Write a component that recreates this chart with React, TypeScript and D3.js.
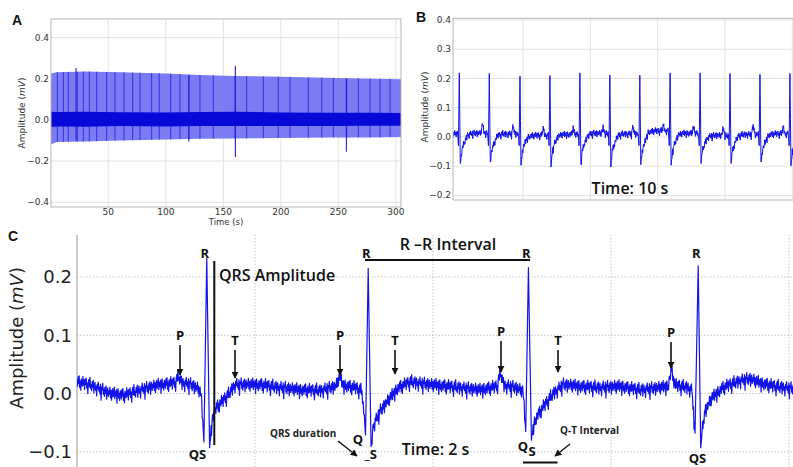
import React from 'react';
import * as d3 from 'd3';

// ---------- Panel A (300 s recording, read as envelopes) ----------
const A_ENV_T = [0.2, 5, 30, 60, 100, 130, 160, 200, 240, 280, 304.5];
const A_ENV_HI = [0.225, 0.232, 0.235, 0.232, 0.225, 0.218, 0.213, 0.21, 0.205, 0.2, 0.198];
const A_ENV_LO = [-0.12, -0.107, -0.105, -0.1, -0.095, -0.092, -0.09, -0.088, -0.086, -0.085, -0.083];
const A_CORE_HI = [0.04, 0.038, 0.04, 0.037, 0.036, 0.038, 0.04, 0.036, 0.035, 0.035, 0.034];
const A_CORE_LO = [-0.035, -0.032, -0.033, -0.03, -0.032, -0.03, -0.03, -0.03, -0.03, -0.028, -0.028];
const A_SPIKE_T = [5.7, 10.9, 15.2, 23.1, 28.3, 33.5, 39.9, 48.6, 55.8, 63.7, 71.2, 77.6, 87.7, 94.3, 104.3,
  112.3, 120.2, 129.7, 141.3, 160.2, 170.3, 184.8, 197.8, 208, 223.9, 235.6, 245.7, 257.3, 267.4, 277.6, 286.3, 295];
const A_EVENT_T = [22, 120, 160.5, 257];
const A_EVENT_HI = [0.252, 0.215, 0.262, 0.2];
const A_EVENT_LO = [-0.1, -0.105, -0.18, -0.155];
const A_XTICKS = [50, 100, 150, 200, 250, 300];
const A_YTICKS = [-0.4, -0.2, 0.0, 0.2, 0.4];

// ---------- Panel B (10 s) ----------
const B_R_T = [0.107, 0.998, 1.91, 2.8, 3.69, 4.58, 5.47, 6.37, 7.26, 8.15, 9.04, 9.93];
const B_R_V = [0.219, 0.217, 0.208, 0.21, 0.219, 0.211, 0.211, 0.219, 0.219, 0.217, 0.214, 0.217];
const B_S_V = [-0.091, -0.086, -0.097, -0.103, -0.094, -0.103, -0.095, -0.097, -0.091, -0.091, -0.086, -0.099];
const B_P_V = [0.03, 0.045, 0.037, 0.03, 0.032, 0.03, 0.035, 0.04, 0.035, 0.03, 0.04, 0.035];
const B_BASE = [0.012, 0.01, 0.005, 0.008, 0.012, 0.01, 0.02, 0.012, 0.005, 0.008, 0.01, 0.01];
// beat shape offsets (s from R) and levels
const B_PRE_DT = [-0.25, -0.2, -0.15, -0.05];
const B_Q_DT = -0.025, B_Q_V = -0.03;
const B_S_DT = 0.03;
const B_REC_DT = [0.07, 0.14, 0.25, 0.4];
const B_REC_V = [-0.05, -0.022, 0.005, 0.01];
const B_YTICKS = [-0.2, -0.1, 0.0, 0.1, 0.2, 0.3, 0.4];
const B_XGRID = [2, 4, 6, 8, 10];

// ---------- Panel C (zoomed trace) ----------
const C_T = [0, 0.073, 0.185, 0.27, 0.354, 0.466, 0.551, 0.57, 0.59, 0.635, 0.68, 0.697, 0.713, 0.729, 0.745,
  0.753, 0.767, 0.787, 0.815, 0.848, 0.888, 1.028, 1.14, 1.253, 1.365, 1.455, 1.475, 1.494, 1.562, 1.601,
  1.621, 1.636, 1.652, 1.666, 1.702, 1.758, 1.803, 1.871, 1.983, 2.152, 2.264, 2.36, 2.379, 2.399, 2.461,
  2.506, 2.521, 2.536, 2.553, 2.565, 2.583, 2.62, 2.676, 2.73, 2.826, 2.938, 3.051, 3.163, 3.275, 3.32,
  3.34, 3.36, 3.433, 3.455, 3.472, 3.49, 3.504, 3.514, 3.528, 3.566, 3.629, 3.725, 3.781, 3.837, 3.921, 4.03];
const C_V = [0.02, 0.015, 0.0, -0.003, 0.006, 0.015, 0.018, 0.029, 0.018, 0.016, 0.008, 0.0, -0.083, 0.232, -0.093,
  -0.063, -0.035, -0.023, -0.014, -0.003, 0.015, 0.015, 0.01, 0.006, 0.005, 0.012, 0.03, 0.014, 0.01, 0.004,
  -0.071, 0.215, -0.091, -0.054, -0.031, -0.008, 0.009, 0.02, 0.015, 0.01, 0.006, 0.012, 0.035, 0.014, 0.01,
  0.004, -0.065, 0.216, -0.08, -0.055, -0.04, -0.023, 0.0, 0.015, 0.012, 0.01, 0.012, 0.006, 0.01, 0.012,
  0.04, 0.014, 0.01, 0.005, -0.068, 0.219, -0.093, -0.06, -0.031, -0.008, 0.01, 0.022, 0.025, 0.018, 0.012, 0.008];
const C_R_T = [0.729, 1.636, 2.536, 3.49];
const C_YTICKS = [-0.1, 0.0, 0.1, 0.2];
const C_XGRID = [1, 2, 3, 4];
// high-frequency jitter (mV)
const NOISE = [0.004, -0.007, 0.009, -0.002, 0.011, -0.009, 0.003, -0.013, 0.007, 0.0, -0.005, 0.012, -0.003, 0.006,
  -0.01, 0.008, -0.001, 0.01, -0.007, 0.002, -0.016, 0.005, 0.009, -0.004, 0.013, -0.006, 0.001, -0.009, 0.007,
  -0.002, 0.01, -0.011, 0.004, 0.008, -0.005, 0.002, -0.014, 0.006, -0.001, 0.011, -0.004, 0.003, -0.008, 0.009,
  -0.018, 0.005, 0.001, 0.012, -0.006, 0.003, -0.009, 0.007, -0.003, 0.01, -0.012, 0.002, 0.008, -0.006, 0.004,
  -0.002, 0.011, -0.007, 0.006, -0.011, 0.003, 0.009, -0.005, 0.0, 0.012, -0.008, 0.005, -0.003, 0.008, -0.015,
  0.004, 0.01, -0.006, 0.002, -0.01, 0.007];

const SANS = 'DejaVu Sans, sans-serif';
const ANN = 'Open Sans, sans-serif';
const PANEL = 'Liberation Sans, Arial, sans-serif';
const TRACE = '#1212ea';

function buildTrace(T: number[], V: number[], rT: number[], xs: any, ys: any, quiet: number, noiseOffset: number, stepPx: number) {
  const pts: [number, number][] = [];
  let k = noiseOffset;
  for (let i = 0; i < T.length - 1; i++) {
    const px0 = xs(T[i]);
    const px1 = xs(T[i + 1]);
    const n = Math.max(1, Math.round((px1 - px0) / stepPx));
    for (let j = 0; j < n; j++) {
      const f = j / n;
      const t = T[i] + (T[i + 1] - T[i]) * f;
      let v = V[i] + (V[i + 1] - V[i]) * f;
      const nearR = rT.some((r) => Math.abs(t - r) < quiet);
      if (!nearR) v += NOISE[k++ % NOISE.length];
      pts.push([xs(t), ys(v)]);
    }
  }
  pts.push([xs(T[T.length - 1]), ys(V[V.length - 1])]);
  return d3.line()(pts) || '';
}

function buildB() {
  const T: number[] = [-0.08];
  const V: number[] = [0.01];
  B_R_T.forEach((r, i) => {
    const prev = i === 0 ? 0.01 : B_BASE[i - 1];
    const seq: [number, number][] = [
      [r + B_PRE_DT[0], prev], [r + B_PRE_DT[1], B_P_V[i]], [r + B_PRE_DT[2], prev], [r + B_PRE_DT[3], prev],
      [r + B_Q_DT, B_Q_V], [r, B_R_V[i]], [r + B_S_DT, B_S_V[i]],
      [r + B_REC_DT[0], B_REC_V[0]], [r + B_REC_DT[1], B_REC_V[1]], [r + B_REC_DT[2], B_BASE[i] - 0.005], [r + B_REC_DT[3], B_BASE[i]],
    ];
    seq.forEach(([t, v]) => {
      if (t > T[T.length - 1]) { T.push(t); V.push(v); }
    });
  });
  return { T, V };
}

export default function App() {
  // scales
  const xA = d3.scaleLinear().domain([0.2, 304.5]).range([51, 401]);
  const yA = d3.scaleLinear().domain([-0.423, 0.49]).range([207, 19]);
  const xB = d3.scaleLinear().domain([-0.08, 10.3]).range([453, 453 + 10.38 * 33.66]);
  const yB = d3.scaleLinear().domain([-0.216, 0.406]).range([200, 18.3]);
  const xC = d3.scaleLinear().domain([0, 4.03]).range([77, 77 + 4.03 * 178]);
  const yC = d3.scaleLinear().domain([-0.126, 0.272]).range([467, 235]);

  const envHi = d3.scaleLinear().domain(A_ENV_T).range(A_ENV_HI);
  const envLo = d3.scaleLinear().domain(A_ENV_T).range(A_ENV_LO);
  const idx = A_ENV_T.map((_, i) => i);
  const lightArea = d3.area<number>().x((i) => xA(A_ENV_T[i])).y0((i) => yA(A_ENV_LO[i])).y1((i) => yA(A_ENV_HI[i]))(idx) || '';
  const coreArea = d3.area<number>().x((i) => xA(A_ENV_T[i])).y0((i) => yA(A_CORE_LO[i])).y1((i) => yA(A_CORE_HI[i]))(idx) || '';

  const bData = buildB();
  const bPath = buildTrace(bData.T, bData.V, B_R_T, xB, yB, 0.04, 7, 0.45);
  const cPath = buildTrace(C_T, C_V, C_R_T, xC, yC, 0.02, 0, 0.55);

  const fmt = (v: number) => (v < 0 ? '\u2212' : '') + Math.abs(v).toFixed(1);

  const arrow = (x1: number, y1: number, x2: number, y2: number, key: string, w = 1.6) => (
    <line key={key} x1={x1} y1={y1} x2={x2} y2={y2} stroke="#111" strokeWidth={w} markerEnd="url(#ah)" />
  );

  return (
    <div style={{ position: 'absolute', left: 0, top: 0 }}>
      <svg width={793} height={467} style={{ display: 'block', background: '#fff' }}>
        <defs>
          <marker id="ah" viewBox="0 0 10 10" refX="9" refY="5" markerWidth="7" markerHeight="7" orient="auto" markerUnits="userSpaceOnUse">
            <path d="M0,0 L10,5 L0,10 z" fill="#111" />
          </marker>
          <clipPath id="clipA"><rect x={51} y={19} width={350} height={188} /></clipPath>
          <clipPath id="clipB"><rect x={453} y={18.3} width={340} height={181.7} /></clipPath>
          <clipPath id="clipC"><rect x={77} y={235} width={716} height={232} /></clipPath>
        </defs>

        {/* ================= Panel A ================= */}
        <text x={12} y={25} fontFamily={PANEL} fontWeight="bold" fontSize={14} fill="#111">A</text>
        <g>
          {A_XTICKS.map((t) => (
            <line key={'agx' + t} x1={xA(t)} x2={xA(t)} y1={19} y2={207} stroke="#e3e3e3" strokeWidth={1} />
          ))}
          {A_YTICKS.map((v) => (
            <line key={'agy' + v} x1={51} x2={401} y1={yA(v)} y2={yA(v)} stroke="#e3e3e3" strokeWidth={1} />
          ))}
          <g clipPath="url(#clipA)">
            <path d={lightArea} fill="#7b7bf3" />
            {A_SPIKE_T.map((t) => (
              <line key={'as' + t} x1={xA(t)} x2={xA(t)} y1={yA(envLo(t))} y2={yA(envHi(t))} stroke="#2a2ae6" strokeWidth={0.9} />
            ))}
            {A_EVENT_T.map((t, i) => (
              <line key={'ae' + t} x1={xA(t)} x2={xA(t)} y1={yA(A_EVENT_LO[i])} y2={yA(A_EVENT_HI[i])} stroke="#2020dd" strokeWidth={1.1} />
            ))}
            <path d={coreArea} fill="#0808d8" />
          </g>
          <rect x={51} y={19} width={350} height={188} fill="none" stroke="#b5b5b5" strokeWidth={1} />
          {A_YTICKS.map((v) => (
            <text key={'aty' + v} x={49} y={yA(v)} dy="0.35em" textAnchor="end" fontFamily={SANS} fontSize={9} fill="#333">{fmt(v)}</text>
          ))}
          {A_XTICKS.map((t) => (
            <text key={'atx' + t} x={xA(t)} y={215} textAnchor="middle" fontFamily={SANS} fontSize={9} fill="#333">{t}</text>
          ))}
          <text x={226} y={224.5} textAnchor="middle" fontFamily={SANS} fontSize={8.5} fill="#333">Time (s)</text>
          <text transform="translate(25,113) rotate(-90)" textAnchor="middle" fontFamily={SANS} fontSize={9} fill="#333">
            Amplitude (<tspan fontStyle="italic">mV</tspan>)
          </text>
        </g>

        {/* ================= Panel B ================= */}
        <text x={416} y={22} fontFamily={PANEL} fontWeight="bold" fontSize={14} fill="#111">B</text>
        <g>
          {B_XGRID.map((t) => (
            <line key={'bgx' + t} x1={xB(t)} x2={xB(t)} y1={18.3} y2={200} stroke="#e3e3e3" strokeWidth={1} />
          ))}
          {B_YTICKS.map((v) => (
            <line key={'bgy' + v} x1={453} x2={793} y1={yB(v)} y2={yB(v)} stroke="#e3e3e3" strokeWidth={1} />
          ))}
          <g clipPath="url(#clipB)">
            <path d={bPath} fill="none" stroke={TRACE} strokeWidth={1} strokeLinejoin="round" />
          </g>
          <path d="M793,18.3 H453 V200 H793" fill="none" stroke="#b5b5b5" strokeWidth={1} />
          {B_YTICKS.map((v) => (
            <text key={'bty' + v} x={451} y={yB(v)} dy="0.35em" textAnchor="end" fontFamily={SANS} fontSize={9} fill="#333">{fmt(v)}</text>
          ))}
          <text transform="translate(428,107) rotate(-90)" textAnchor="middle" fontFamily={SANS} fontSize={9} fill="#333">
            Amplitude (<tspan fontStyle="italic">mV</tspan>)
          </text>
          <text x={630} y={194} textAnchor="middle" fontFamily={ANN} fontWeight={600} fontSize={16} fill="#111">Time: 10 s</text>
        </g>

        {/* ================= Panel C ================= */}
        <text x={8} y={241} fontFamily={PANEL} fontWeight="bold" fontSize={14} fill="#111">C</text>
        <g>
          {C_YTICKS.map((v) => (
            <line key={'cgy' + v} x1={77} x2={793} y1={yC(v)} y2={yC(v)} stroke="#b8b8b8" strokeWidth={1} strokeDasharray="1.2,2" />
          ))}
          {C_XGRID.map((t) => (
            <line key={'cgx' + t} x1={xC(t)} x2={xC(t)} y1={235} y2={467} stroke="#b8b8b8" strokeWidth={1} strokeDasharray="1.2,2" />
          ))}
          <line x1={77} x2={77} y1={235} y2={467} stroke="#999" strokeWidth={1} />
          <g clipPath="url(#clipC)">
            <path d={cPath} fill="none" stroke={TRACE} strokeWidth={1.2} strokeLinejoin="round" />
          </g>
          {C_YTICKS.map((v) => (
            <text key={'cty' + v} x={72} y={yC(v)} dy="0.36em" textAnchor="end" fontFamily={SANS} fontSize={18} fill="#222">{fmt(v)}</text>
          ))}
          <text transform="translate(23,338) rotate(-90)" textAnchor="middle" fontFamily={SANS} fontSize={18} fill="#222">
            Amplitude (<tspan fontStyle="italic">mV</tspan>)
          </text>

          {/* R labels */}
          {C_R_T.map((r, i) => (
            <text key={'cr' + i} x={xC(r) - 2} y={258} textAnchor="middle" fontFamily={ANN} fontWeight={700} fontSize={13} fill="#111">R</text>
          ))}

          {/* QRS amplitude */}
          <line x1={214.3} x2={214.3} y1={261} y2={445} stroke="#111" strokeWidth={2} />
          <text x={219} y={281} fontFamily={ANN} fontWeight={600} fontSize={16} fill="#111">QRS Amplitude</text>

          {/* R-R interval */}
          <line x1={365} x2={530} y1={260} y2={260} stroke="#111" strokeWidth={2} />
          <text x={448} y={250} textAnchor="middle" fontFamily={ANN} fontWeight={600} fontSize={16} fill="#111">R –R Interval</text>

          {/* P labels */}
          <text x={180} y={340} textAnchor="middle" fontFamily={ANN} fontWeight={700} fontSize={13} fill="#111">P</text>
          {arrow(180, 345, 180, 375, 'p1')}
          <text x={340} y={340} textAnchor="middle" fontFamily={ANN} fontWeight={700} fontSize={13} fill="#111">P</text>
          {arrow(340, 345, 340, 375, 'p2')}
          <text x={501} y={336} textAnchor="middle" fontFamily={ANN} fontWeight={700} fontSize={13} fill="#111">P</text>
          {arrow(501, 341, 501, 372, 'p3')}
          <text x={671} y={337} textAnchor="middle" fontFamily={ANN} fontWeight={700} fontSize={13} fill="#111">P</text>
          {arrow(671, 342, 671, 368, 'p4')}

          {/* T labels */}
          <text x={235} y={345} textAnchor="middle" fontFamily={ANN} fontWeight={700} fontSize={13} fill="#111">T</text>
          {arrow(235, 350, 235, 378, 't1')}
          <text x={395} y={345} textAnchor="middle" fontFamily={ANN} fontWeight={700} fontSize={13} fill="#111">T</text>
          {arrow(395, 350, 395, 374, 't2')}
          <text x={558} y={345} textAnchor="middle" fontFamily={ANN} fontWeight={700} fontSize={13} fill="#111">T</text>
          {arrow(558, 350, 558, 372, 't3')}

          {/* Q / S labels */}
          <text x={197.5} y={459} textAnchor="middle" fontFamily={ANN} fontWeight={700} fontSize={13} fill="#111">QS</text>
          <text x={358} y={444} textAnchor="middle" fontFamily={ANN} fontWeight={700} fontSize={13} fill="#111">Q</text>
          <text x={377} y={459} textAnchor="end" fontFamily={ANN} fontWeight={700} fontSize={13} fill="#111">_S</text>
          <text x={523} y={451} textAnchor="middle" fontFamily={ANN} fontWeight={700} fontSize={13} fill="#111">Q</text>
          <text x={532} y={456} textAnchor="middle" fontFamily={ANN} fontWeight={700} fontSize={13} fill="#111">S</text>
          <text x={697.5} y={463} textAnchor="middle" fontFamily={ANN} fontWeight={700} fontSize={13} fill="#111">QS</text>

          {/* QRS duration */}
          <text x={270} y={436.5} fontFamily={ANN} fontWeight={700} fontSize={10} fill="#222">QRS duration</text>
          {arrow(338, 441, 357, 456, 'qd', 1.5)}

          {/* Q-T interval */}
          <text x={560} y={433.5} fontFamily={ANN} fontWeight={700} fontSize={10} fill="#222">Q-T Interval</text>
          {arrow(570, 444, 555, 456, 'qt', 1.5)}
          <line x1={523} x2={557.5} y1={462.5} y2={462.5} stroke="#111" strokeWidth={2} />

          <text x={435.5} y={455} textAnchor="middle" fontFamily={ANN} fontWeight={600} fontSize={16} fill="#111">Time: 2 s</text>
        </g>
      </svg>
    </div>
  );
}
